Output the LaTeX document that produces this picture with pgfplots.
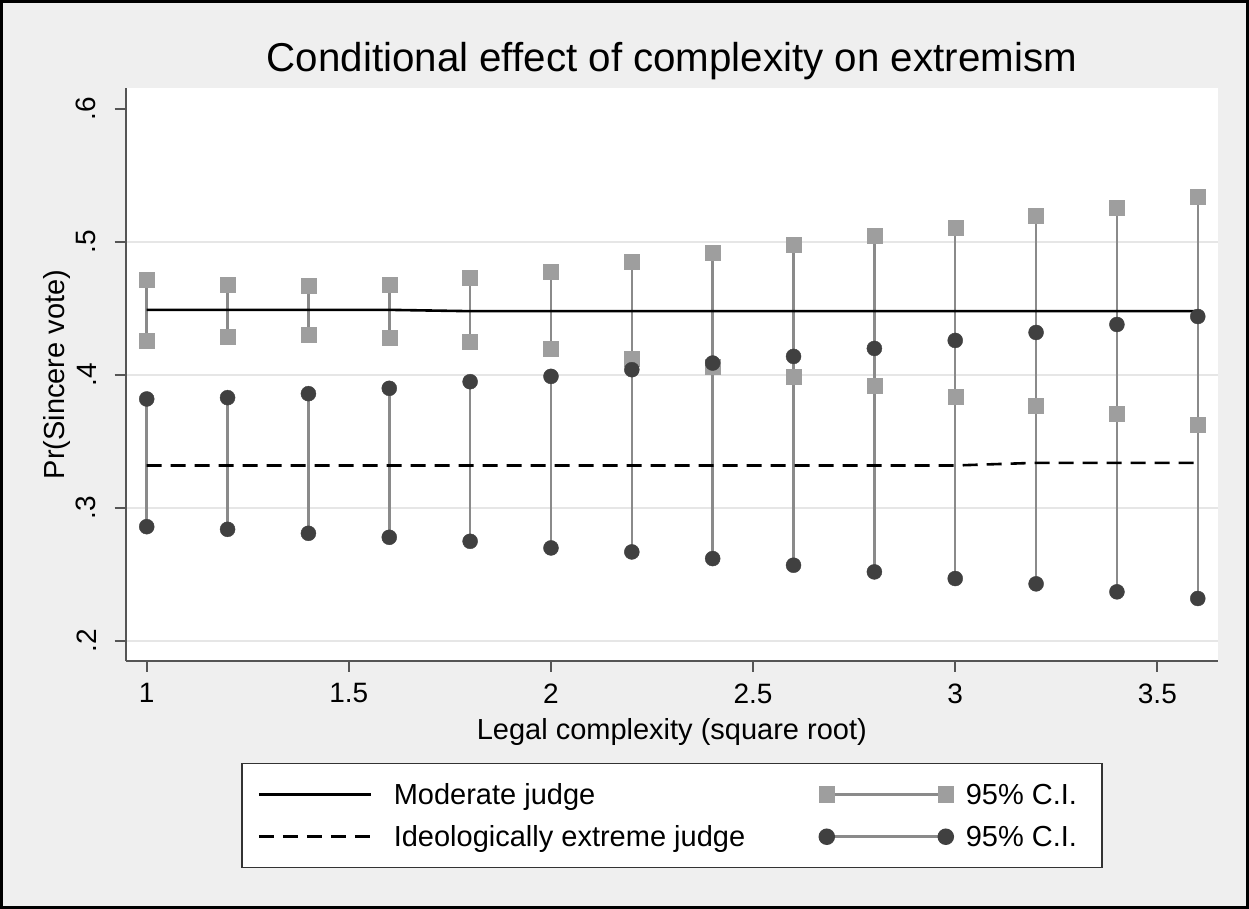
\documentclass[border=0pt]{standalone}
\usepackage{fontspec}
\setmainfont{Liberation Sans}
\usepackage{pgfplots}
\usepackage{pgfplotstable}
\pgfplotsset{compat=1.18}
\definecolor{bgc}{HTML}{EFEFEF}
\definecolor{sqgray}{HTML}{9E9E9E}
\definecolor{spikegray}{HTML}{8A8A8A}
\definecolor{circdark}{HTML}{404040}
\definecolor{gridgray}{HTML}{E6E6E6}
\definecolor{axisgray}{HTML}{555555}

\pgfplotsset{
  lineleg/.style={legend image code/.code={\draw[##1] (17pt,0pt) -- (129pt,0pt); \path[draw=none,fill=none] (0pt,0pt) -- (152pt,0pt);}},
  cileg/.style={legend image code/.code={\draw[spikegray, line width=2.5pt, solid] (8pt,0pt) -- (127pt,0pt);
     \draw[##1] plot coordinates {(8pt,0pt) (127pt,0pt)}; \path[draw=none,fill=none] (0pt,0pt) -- (147pt,0pt);}},
}

\pgfplotstableread{
x lo hi
1.0 0.426 0.472
1.2 0.429 0.468
1.4 0.430 0.467
1.6 0.428 0.468
1.8 0.425 0.473
2.0 0.420 0.478
2.2 0.412 0.485
2.4 0.406 0.492
2.6 0.399 0.498
2.8 0.392 0.505
3.0 0.384 0.511
3.2 0.377 0.520
3.4 0.371 0.526
3.6 0.363 0.534
}\modci

\pgfplotstableread{
x lo hi
1.0 0.286 0.382
1.2 0.284 0.383
1.4 0.281 0.386
1.6 0.278 0.390
1.8 0.275 0.395
2.0 0.270 0.399
2.2 0.267 0.404
2.4 0.262 0.409
2.6 0.257 0.414
2.8 0.252 0.420
3.0 0.247 0.426
3.2 0.243 0.432
3.4 0.237 0.438
3.6 0.232 0.444
}\extci

\pgfplotstableread{
x mod ext
1.0 0.449 0.332
1.2 0.449 0.332
1.4 0.449 0.332
1.6 0.449 0.332
1.8 0.448 0.332
2.0 0.448 0.332
2.2 0.448 0.332
2.4 0.448 0.332
2.6 0.448 0.332
2.8 0.448 0.332
3.0 0.448 0.332
3.2 0.448 0.334
3.4 0.448 0.334
3.6 0.448 0.334
}\lines

\begin{document}
\begin{tikzpicture}[x=1pt,y=1pt]
\fill[bgc] (0,0) rectangle (1249,909);
\begin{axis}[
  at={(125.7pt,248pt)}, anchor=south west,
  scale only axis, width=1092.3pt, height=573pt,
  xmin=0.948, xmax=3.650, ymin=0.185, ymax=0.6158,
  axis background/.style={fill=white},
  axis x line*=bottom, axis y line*=left,
  x axis line style={-, draw=axisgray, line width=2pt},
  y axis line style={-, draw=axisgray, line width=2pt},
  tick align=outside, major tick length=11pt,
  tick style={draw=axisgray, line width=2pt},
  xtick={1,1.5,2,2.5,3,3.5},
  xticklabels={1,1.5,2,2.5,3,3.5},
  ytick={0.2,0.3,0.4,0.5},
  yticklabels={.2,.3,.4,.5},
  extra y ticks={0.6}, extra y tick labels={.6},
  extra y tick style={grid=none},
  ymajorgrids, grid style={draw=gridgray, line width=2pt},
  tick label style={font=\fontsize{28}{32}\selectfont},
  xticklabel shift=8pt,
  yticklabel shift=15pt,
  yticklabel style={rotate=90, anchor=south},
  title={Conditional effect of complexity on extremism},
  title style={font=\fontsize{40.3}{48}\selectfont, at={(axis description cs:0.5,1)}, anchor=base, yshift=10pt},
  xlabel={Legal complexity (square root)},
  xlabel style={font=\fontsize{29}{34}\selectfont, at={(axis description cs:0.5,-0.1235)}, anchor=center},
  ylabel={Pr(Sincere vote)},
  ylabel style={font=\fontsize{29}{34}\selectfont, at={(axis description cs:-0.0629,0.5)}, anchor=center},
  legend columns=2,
  legend cell align=left,
  legend style={at={(axis description cs:0.1056,-0.178)}, anchor=north west,
    draw=black!80, line width=1.5pt, fill=white,
    inner xsep=0pt, inner ysep=10pt,
    column sep=0pt, row sep=0pt,
    font=\fontsize{29}{34}\selectfont,
    nodes={inner sep=0pt, text height=31pt, text depth=11pt}},
]
% CI spikes
\addplot[draw=none, mark=none, forget plot,
  error bars/.cd, y dir=plus, y explicit, error mark=none,
  error bar style={draw=spikegray, line width=2.5pt, solid}]
  table[x=x, y=lo, y error expr=\thisrow{hi}-\thisrow{lo}] {\modci};
\addplot[draw=none, mark=none, forget plot,
  error bars/.cd, y dir=plus, y explicit, error mark=none,
  error bar style={draw=spikegray, line width=2.5pt, solid}]
  table[x=x, y=lo, y error expr=\thisrow{hi}-\thisrow{lo}] {\extci};
% Moderate line
\addplot[black, line width=2.6pt, mark=none, lineleg]
  table[x=x, y=mod] {\lines};
\addlegendentry{\makebox[425pt][l]{Moderate judge}}
% Moderate CI markers
\addplot[only marks, mark=square*, mark size=7.5pt, mark options={fill=sqgray, draw=sqgray, solid}, forget plot]
  table[x=x, y=lo] {\modci};
\addplot[only marks, mark=square*, mark size=7.5pt, mark options={fill=sqgray, draw=sqgray, solid}, cileg]
  table[x=x, y=hi] {\modci};
\addlegendentry{\makebox[136pt][l]{95\% C.I.}}
% Extreme line
\addplot[black, line width=2.6pt, mark=none, dash pattern=on 15pt off 9pt, lineleg]
  table[x=x, y=ext] {\lines};
\addlegendentry{\makebox[425pt][l]{Ideologically extreme judge}}
% Extreme CI markers
\addplot[only marks, mark=*, mark size=7.5pt, mark options={fill=circdark, draw=circdark, solid}, forget plot]
  table[x=x, y=lo] {\extci};
\addplot[only marks, mark=*, mark size=7.5pt, mark options={fill=circdark, draw=circdark, solid}, cileg]
  table[x=x, y=hi] {\extci};
\addlegendentry{\makebox[136pt][l]{95\% C.I.}}
\end{axis}
\draw[black, line width=3pt] (1.5,1.5) rectangle (1247.5,907.5);
\end{tikzpicture}
\end{document}
